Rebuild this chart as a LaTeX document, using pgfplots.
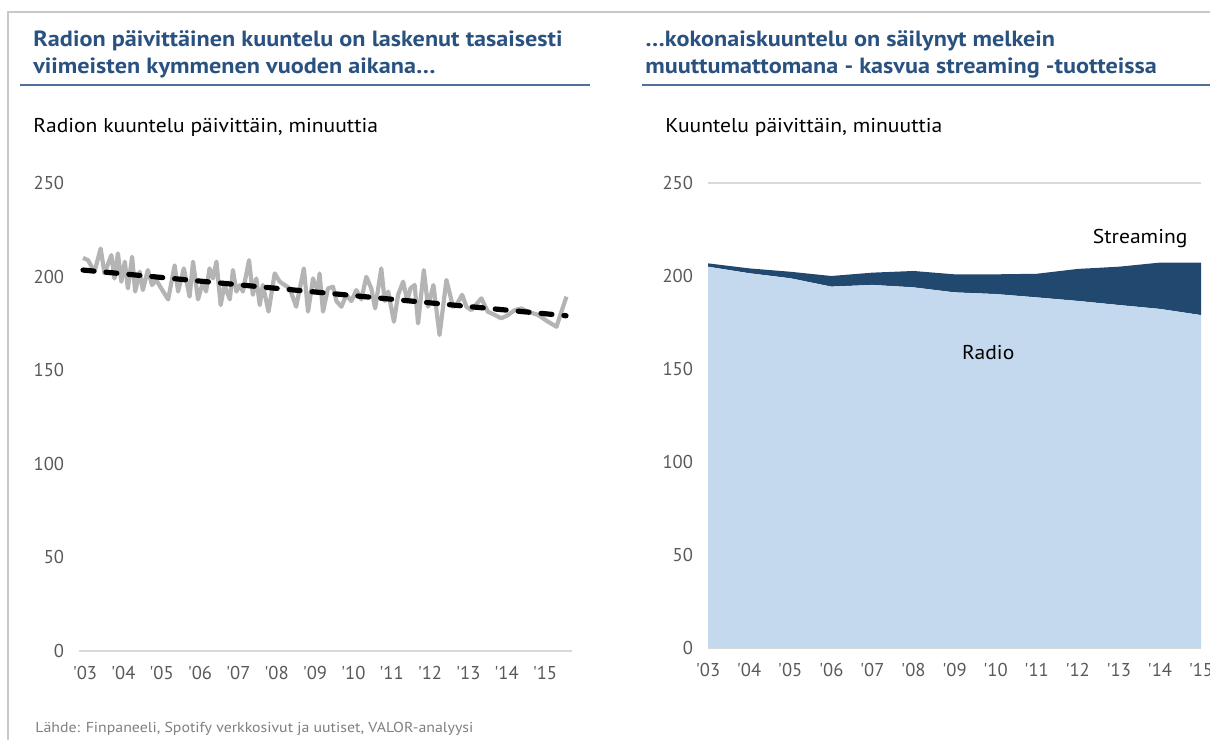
\documentclass[border=0pt]{standalone}
\usepackage{pgfplots}
\pgfplotsset{compat=1.18}
\usepackage{fontspec}
\setmainfont{PT Sans}
\newfontfamily\widefont[FakeStretch=1.1]{PT Sans}
\newfontfamily\subfont[FakeStretch=1.08]{PT Sans}
\definecolor{titleblue}{HTML}{2A5280}
\definecolor{ruleblue}{HTML}{4F7098}
\definecolor{ticklab}{HTML}{595959}
\definecolor{framegray}{HTML}{C8C8C8}
\definecolor{gridgray}{HTML}{D9D9D9}
\definecolor{lineg}{HTML}{B4B4B4}
\definecolor{radioblue}{HTML}{C5D9EE}
\definecolor{streamblue}{HTML}{21496F}
\definecolor{footgray}{HTML}{7F7F7F}

\pgfplotstableread{
x y
2002.95 210
2003.08 208.8
2003.25 202.6
2003.41 215
2003.51 201.7
2003.69 211.5
2003.77 199
2003.86 212.4
2003.95 197.3
2004.04 208
2004.12 193.7
2004.23 210.6
2004.31 192
2004.43 202.6
2004.51 192.8
2004.64 203.5
2004.75 195.5
2004.86 198.2
2004.99 193.7
2005.17 187.8
2005.34 206
2005.43 192
2005.58 204.4
2005.73 189.3
2005.82 208
2005.95 187.8
2006.08 197.3
2006.16 192
2006.25 204.4
2006.34 199
2006.43 208
2006.54 184.8
2006.64 195.5
2006.78 187.8
2006.86 203.5
2006.95 192
2007.04 195.5
2007.12 192
2007.28 208.8
2007.38 190.3
2007.47 199
2007.56 184.8
2007.64 195.5
2007.79 181.3
2007.95 201.7
2008.08 197.3
2008.21 195.5
2008.34 193.7
2008.51 183.9
2008.71 204.4
2008.82 181.3
2008.95 199
2009.08 192
2009.12 201.7
2009.21 181.3
2009.34 193.7
2009.47 194.6
2009.56 186.9
2009.69 183.9
2009.82 190.3
2009.95 186.9
2010.08 192.8
2010.21 187.8
2010.34 199.9
2010.47 193.7
2010.57 183
2010.73 204.4
2010.82 186.9
2010.91 192
2011.06 175.9
2011.17 190.3
2011.30 197.3
2011.41 186.9
2011.49 193.7
2011.60 195.5
2011.69 175
2011.84 203.5
2011.95 183.9
2012.09 195.5
2012.25 168.8
2012.43 198.2
2012.60 183.9
2012.69 184.8
2012.84 190.3
2012.95 183.9
2013.08 182.1
2013.34 188.4
2013.51 181.3
2013.69 179.5
2013.86 177.7
2014.04 179.5
2014.21 182.1
2014.38 183
2014.56 181.3
2014.82 179.5
2015.08 175.9
2015.30 173.2
2015.56 189.3
}\radiodaily

\pgfplotstableread{
x y
2002.95 203.5
2015.55 179.1
}\trend

\pgfplotstableread{
x radio streaming
2003 205.0 1.8
2004 201.5 2.6
2005 198.8 3.5
2006 194.3 5.7
2007 195.2 6.6
2008 193.9 8.8
2009 191.2 9.7
2010 190.3 10.6
2011 188.5 12.7
2012 186.6 17.2
2013 184.4 20.6
2014 182.3 24.9
2015 179.0 28.2
}\total

\pgfplotsset{
  base/.style={
    scale only axis,
    anchor=south west,
    ymin=0, ymax=250,
    ytick={0,50,...,250},
    axis line style={draw=none},
    major tick length=0pt,
    tick label style={font=\fontsize{9.3}{10}\selectfont, text=ticklab},
    /pgf/number format/assume math mode=true,
    yticklabel style={xshift=-4pt},
    xticklabel style={yshift=-4pt},
    xtick={2003,...,2015},
    xticklabels={\textquotesingle03,\textquotesingle04,\textquotesingle05,\textquotesingle06,\textquotesingle07,\textquotesingle08,\textquotesingle09,\textquotesingle10,\textquotesingle11,\textquotesingle12,\textquotesingle13,\textquotesingle14,\textquotesingle15},
    clip=false,
  }
}

\begin{document}
\begin{tikzpicture}
\path[use as bounding box] (0pt,0pt) rectangle (605pt,370pt);
\draw[framegray, line width=0.8pt] (4pt,0pt) -- (4pt,364pt) -- (605pt,364pt);

% titles
\node[anchor=base west, inner sep=0, font=\widefont\fontsize{11}{12}\selectfont\bfseries, text=titleblue] at (16.5pt,346.5pt) {Radion päivittäinen kuuntelu on laskenut tasaisesti};
\node[anchor=base west, inner sep=0, font=\widefont\fontsize{11}{12}\selectfont\bfseries, text=titleblue] at (16.5pt,333pt) {viimeisten kymmenen vuoden aikana…};
\node[anchor=base west, inner sep=0, font=\widefont\fontsize{11}{12}\selectfont\bfseries, text=titleblue] at (322.5pt,346.5pt) {…kokonaiskuuntelu on säilynyt melkein};
\node[anchor=base west, inner sep=0, font=\widefont\fontsize{11}{12}\selectfont\bfseries, text=titleblue] at (322.5pt,333pt) {muuttumattomana - kasvua streaming -tuotteissa};
\draw[ruleblue, line width=0.75pt] (10pt,327.5pt) -- (295pt,327.5pt);
\draw[ruleblue, line width=0.75pt] (321pt,327.5pt) -- (605pt,327.5pt);

% subtitles
\node[anchor=base west, inner sep=0, font=\subfont\fontsize{10}{11}\selectfont] at (16.5pt,303.5pt) {Radion kuuntelu päivittäin, minuuttia};
\node[anchor=base west, inner sep=0, font=\subfont\fontsize{10}{11}\selectfont] at (332.5pt,303.5pt) {Kuuntelu päivittäin, minuuttia};

% footer
\node[anchor=base west, inner sep=0, font=\widefont\fontsize{7.2}{8}\selectfont, text=footgray] at (17.5pt,4pt) {Lähde: Finpaneeli, Spotify verkkosivut ja uutiset, VALOR-analyysi};

% left chart
\begin{axis}[base,
  at={(39.6pt,44.5pt)},
  width=246.3pt, height=234pt,
  xmin=2002.85, xmax=2015.7,
  extra y ticks={0}, extra y tick labels={},
  extra y tick style={grid=major, major grid style={gridgray, line width=0.8pt}},
]
\addplot[lineg, line width=2.1pt, line join=round] table[x=x,y=y] {\radiodaily};
\addplot[black, line width=2.6pt, line cap=round, dash pattern=on 5.5pt off 6pt] table[x=x,y=y] {\trend};
\end{axis}

% right chart
\begin{axis}[base,
  at={(354pt,46pt)},
  width=246.5pt, height=232.5pt,
  xmin=2003, xmax=2015,
  stack plots=y,
  extra y ticks={0,250}, extra y tick labels={},
  extra y tick style={grid=major, major grid style={gridgray, line width=0.8pt}},
  after end axis/.code={
    \node[font=\subfont\fontsize{10}{11}\selectfont] at (axis cs:2013.52,220.4) {Streaming};
    \node[font=\subfont\fontsize{10}{11}\selectfont] at (axis cs:2009.82,159.1) {Radio};
  },
]
\addplot[fill=radioblue, draw=none] table[x=x,y=radio] {\total} \closedcycle;
\addplot[fill=streamblue, draw=none] table[x=x,y=streaming] {\total} \closedcycle;
\end{axis}
\end{tikzpicture}
\end{document}
